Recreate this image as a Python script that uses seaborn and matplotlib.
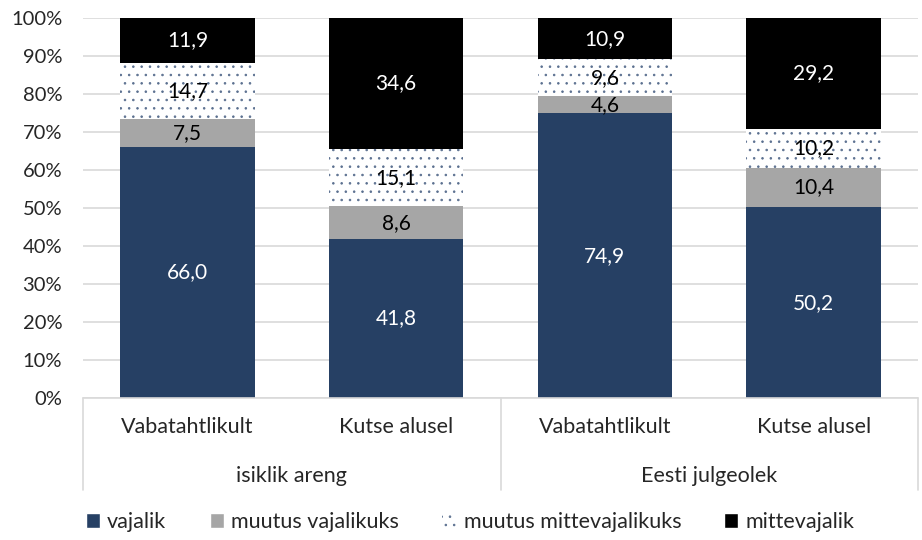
import matplotlib.pyplot as plt
import matplotlib.patches as mpatches
import numpy as np
import pandas as pd
import seaborn as sns

# andmed
groups = ["isiklik areng", "isiklik areng", "Eesti julgeolek", "Eesti julgeolek"]
kinds = ["Vabatahtlikult", "Kutse alusel", "Vabatahtlikult", "Kutse alusel"]
series = ["vajalik", "muutus vajalikuks", "muutus mittevajalikuks", "mittevajalik"]
vajalik = [66.0, 41.8, 74.9, 50.2]
muutus_vaj = [7.5, 8.6, 4.6, 10.4]
muutus_mittevaj = [14.7, 15.1, 9.6, 10.2]
mittevajalik = [11.9, 34.6, 10.9, 29.2]

navy = "#264064"
gray = "#A6A6A6"
colors = [navy, gray, "white", "black"]
text_colors = ["white", "black", "black", "white"]

sns.set_style("white")
plt.rcParams["font.family"] = ["Lato", "DejaVu Sans"]
plt.rcParams["hatch.linewidth"] = 0.6

keys = [f"{g}|{k}" for g, k in zip(groups, kinds)]
values = np.array([vajalik, muutus_vaj, muutus_mittevaj, mittevajalik]) / 100
cum = np.cumsum(values, axis=0)

fig = plt.figure(figsize=(9.22, 5.4), dpi=100)
ax = fig.add_axes([0.09, 0.263, 0.9057, 0.7037])

# kuhjatud tulbad: suurimast kumulatiivsest väiksemani
for i in reversed(range(4)):
    df = pd.DataFrame({"x": keys, "y": cum[i]})
    extra = dict(hatch="..", edgecolor="#5A6F8F") if i == 2 else {}
    sns.barplot(data=df, x="x", y="y", color=colors[i], saturation=1,
                width=0.645, ax=ax, zorder=2, linewidth=0, **extra)

# andmesildid
for i in range(4):
    bottoms = cum[i] - values[i]
    for j in range(4):
        top = min(cum[i][j], 1.0)
        yc = (bottoms[j] + top) / 2
        ax.text(j, yc, f"{values[i][j] * 100:.1f}".replace(".", ","),
                ha="center", va="center", fontsize=15, color=text_colors[i],
                zorder=5)

ax.set_ylim(0, 1)
ax.set_xlim(-0.5, 3.5)
ax.set_yticks(np.arange(0, 1.01, 0.1))
ax.set_yticklabels([f"{int(t)}%" for t in np.arange(0, 101, 10)], fontsize=14.5)
ax.tick_params(axis="y", length=0, pad=15)
ax.yaxis.grid(True, color="#D9D9D9", linewidth=1.2, zorder=0)
ax.set_axisbelow(True)
for s in ax.spines.values():
    s.set_visible(False)
ax.set_xlabel("")
ax.set_ylabel("")
ax.set_xticks(range(4))
ax.set_xticklabels(kinds, fontsize=15.5)
ax.tick_params(axis="x", length=0, pad=14)

# kahetasandiline kategooriatelg
trans = ax.get_xaxis_transform()
line_kw = dict(color="#D9D9D9", linewidth=1.2, clip_on=False, transform=trans)
ax.plot([-0.5, 3.5], [0, 0], **line_kw)
for xv in [-0.5, 1.5, 3.5]:
    ax.plot([xv, xv], [0, -0.242], **line_kw)
for xc, g in [(0.5, groups[0]), (2.5, groups[2])]:
    ax.text(xc, -0.205, g, transform=trans, ha="center", va="center", fontsize=15.5)

handles = [
    mpatches.Patch(facecolor=navy, label=series[0]),
    mpatches.Patch(facecolor=gray, label=series[1]),
    mpatches.Patch(facecolor="white", hatch="..", edgecolor="#5A6F8F", linewidth=0,
                   label=series[2]),
    mpatches.Patch(facecolor="black", label=series[3]),
]
fig.legend(handles=handles, loc="center", bbox_to_anchor=(0.51, 0.033), ncol=4,
           frameon=False, fontsize=15.5, handlelength=0.65, handleheight=0.65,
           handletextpad=0.35, columnspacing=2.0)

fig.savefig("out.png", dpi=100)
